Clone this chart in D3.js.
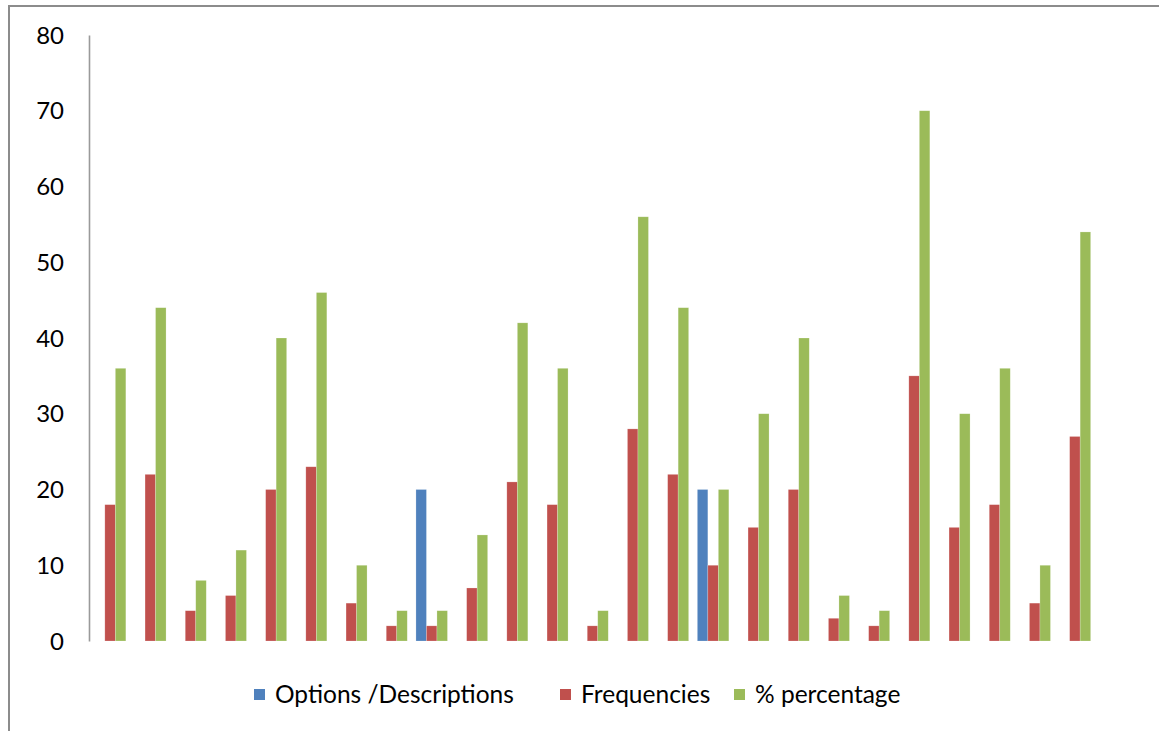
<!DOCTYPE html>
<html>
<head>
<meta charset="utf-8">
<script src="https://cdn.jsdelivr.net/npm/d3@7"></script>
<style>
  html, body { margin: 0; padding: 0; background: #fff; }
  svg { display: block; }
  text { font-family: Lato, "Open Sans", sans-serif; fill: #000; }
</style>
</head>
<body>
<svg id="chart" width="1159" height="731"></svg>
<script>
const categories = ["1","2","3","4","5","6","7","8","9","10","11","12","13","14","15","16","17","18","19","20","21","22","23","24","25"];
const seriesNames = ["Options /Descriptions", "Frequencies", "% percentage"];
const seriesColors = ["#4F81BD", "#C0504D", "#9BBB59"];
const options =     [0,0,0,0,0,0,0,0,20,0,0,0,0,0,0,20,0,0,0,0,0,0,0,0,0];
const frequencies = [18,22,4,6,20,23,5,2,2,7,21,18,2,28,22,10,15,20,3,2,35,15,18,5,27];
const percentage =  [36,44,8,12,40,46,10,4,4,14,42,36,4,56,44,20,30,40,6,4,70,30,36,10,54];
const yTicks = [0,10,20,30,40,50,60,70,80];

const seriesValues = [options, frequencies, percentage];

const svg = d3.select("#chart");
const W = 1159, H = 731;

// outer frame
svg.append("rect")
  .attr("x", 9).attr("y", 6)
  .attr("width", W + 10).attr("height", H + 10)
  .attr("fill", "none").attr("stroke", "#8c8c8c").attr("stroke-width", 2);

const x0 = d3.scaleBand().domain(categories).range([90, 1095]).paddingInner(0).paddingOuter(0);
const x1 = d3.scaleBand().domain(seriesNames).range([0, x0.bandwidth()]).paddingInner(0).paddingOuter(0.414);
const y = d3.scaleLinear().domain([0, 80]).range([641, 35]);

// y axis
const yAxis = d3.axisLeft(y).tickValues(yTicks).tickSize(0).tickPadding(0);
const gy = svg.append("g").attr("transform", "translate(89,0)").call(yAxis);
gy.select(".domain").attr("stroke", "#9a9a9a").attr("stroke-width", 1.6);
gy.selectAll(".tick text")
  .attr("x", -25)
  .attr("dy", "0.34em")
  .style("font-family", "Lato, 'Open Sans', sans-serif")
  .style("font-size", "24px")
  .attr("fill", "#000");

// bars
const groups = svg.append("g").selectAll("g")
  .data(categories)
  .join("g")
  .attr("transform", d => `translate(${x0(d)},0)`);

groups.selectAll("rect")
  .data((d, i) => seriesNames.map((s, k) => ({ s, k, v: seriesValues[k][i] })))
  .join("rect")
  .attr("x", d => x1(d.s))
  .attr("width", x1.bandwidth())
  .attr("y", d => y(d.v))
  .attr("height", d => y(0) - y(d.v))
  .attr("fill", d => seriesColors[d.k])
  .attr("stroke", d => d.v > 0 ? "rgba(255,255,255,0.35)" : "none")
  .attr("stroke-width", 0.6);

// legend
const legendX = [254, 560, 734];
const legend = svg.append("g").selectAll("g")
  .data(seriesNames)
  .join("g")
  .attr("transform", (d, i) => `translate(${legendX[i]},695)`);
legend.append("rect")
  .attr("x", 0).attr("y", -6)
  .attr("width", 11).attr("height", 11)
  .attr("fill", (d, i) => seriesColors[i]);
legend.append("text")
  .attr("x", 21).attr("y", 0).attr("dy", "0.34em")
  .style("font-size", "24.5px")
  .text(d => d);
</script>
</body>
</html>
